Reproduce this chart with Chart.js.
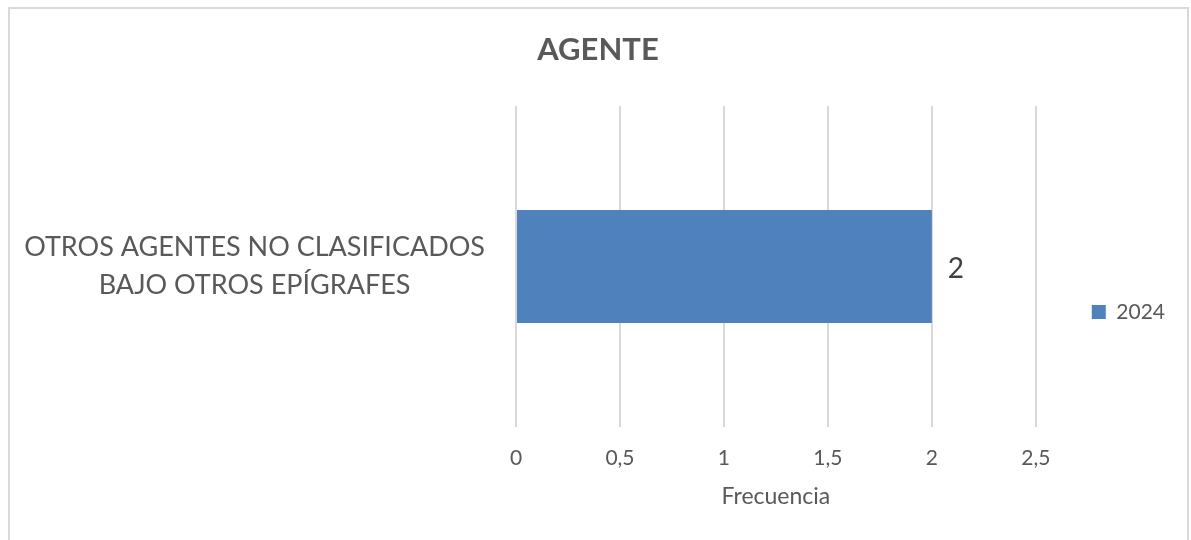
<!DOCTYPE html>
<html lang="es">
<head>
<meta charset="UTF-8">
<title>Agente</title>
<script src="https://cdn.jsdelivr.net/npm/chart.js"></script>
<style>
    body { margin: 0; background: #fff; }
    .marco {
        position: absolute;
        left: 8px;
        top: 7px;
        width: 1177px;
        height: 560px;
        border: 2px solid #d9d9d9;
    }
    #grafico { position: absolute; left: 0; top: 0; }
</style>
</head>
<body>
<div class="marco"></div>
<canvas id="grafico" width="1191" height="540"></canvas>

<script>
    // datos
    const categorias = [['OTROS AGENTES NO CLASIFICADOS', 'BAJO OTROS EPÍGRAFES']];
    const serie2024 = [2];
    const nombreSerie = '2024';
    const ticksX = [0, 0.5, 1, 1.5, 2, 2.5];

    const gris = '#595959';
    Chart.defaults.font.family = 'Lato, "Open Sans", sans-serif';

    // etiqueta de valor a la derecha de la barra
    const etiquetaValor = {
        id: 'etiquetaValor',
        afterDatasetsDraw(chart) {
            const ctx = chart.ctx;
            chart.getDatasetMeta(0).data.forEach((barra, i) => {
                ctx.save();
                ctx.font = '28px Lato';
                ctx.fillStyle = '#404040';
                ctx.textBaseline = 'middle';
                ctx.fillText(String(serie2024[i]), barra.x + 16, barra.y + 2);
                ctx.restore();
            });
        }
    };

    // leyenda centrada bajo el titulo (como en Excel) y etiquetas del eje sin recorte
    const ajustes = {
        id: 'ajustes',
        afterLayout(chart) {
            chart.legend.top = 84;
            chart.scales.y.left = 0;
        }
    };

    new Chart(document.getElementById('grafico'), {
        type: 'bar',
        data: {
            labels: categorias,
            datasets: [{
                label: nombreSerie,
                data: serie2024,
                backgroundColor: '#4f81bd',
                borderWidth: 0,
                barPercentage: 0.352,
                categoryPercentage: 1
            }]
        },
        options: {
            indexAxis: 'y',
            responsive: false,
            animation: false,
            devicePixelRatio: 1,
            layout: { padding: { left: 21, right: 16, top: 0, bottom: 0 } },
            plugins: {
                title: {
                    display: true,
                    text: 'AGENTE',
                    color: gris,
                    font: { size: 31, weight: 'bold', lineHeight: 1.2 },
                    padding: { top: 31.4, bottom: 37.4 }
                },
                legend: {
                    display: true,
                    position: 'right',
                    labels: {
                        boxWidth: 14,
                        boxHeight: 14,
                        padding: 56,
                        color: gris,
                        font: { size: 21 }
                    }
                },
                tooltip: { enabled: false }
            },
            scales: {
                x: {
                    min: 0,
                    max: 2.5,
                    afterBuildTicks: (scale) => {
                        scale.ticks = ticksX.map(v => ({ value: v }));
                    },
                    grid: { color: '#d9d9d9', lineWidth: 2, drawTicks: false },
                    border: { display: false },
                    ticks: {
                        padding: 19,
                        color: gris,
                        font: { size: 21, lineHeight: 1.2 },
                        callback: (v) => String(v).replace('.', ',')
                    },
                    title: {
                        display: true,
                        text: 'Frecuencia',
                        color: gris,
                        font: { size: 23, lineHeight: 1.2 },
                        padding: { top: -7, bottom: 29.2 }
                    }
                },
                y: {
                    afterFit: (scale) => { scale.width = 495; },
                    grid: { display: false, drawTicks: false },
                    border: { display: false },
                    ticks: {
                        padding: 31,
                        crossAlign: 'center',
                        color: gris,
                        font: { size: 27, lineHeight: 1.4 }
                    }
                }
            }
        },
        plugins: [etiquetaValor, ajustes]
    });
</script>
</body>
</html>
